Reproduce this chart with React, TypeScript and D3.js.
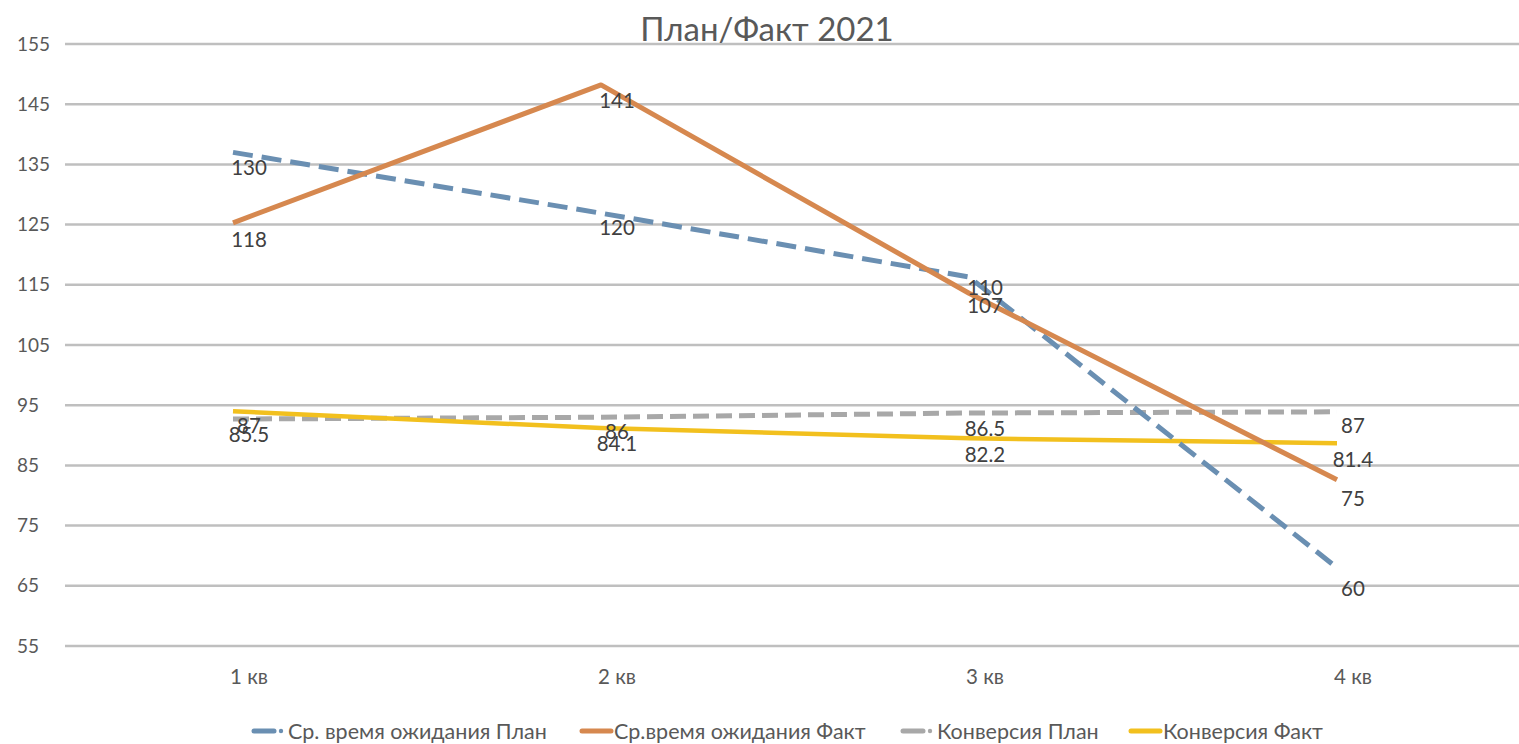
import React from 'react';
import * as d3 from 'd3';

const quarters = ['1 кв', '2 кв', '3 кв', '4 кв'];
const yTicks = [55, 65, 75, 85, 95, 105, 115, 125, 135, 145, 155];

// plotted positions (in axis units)
const waitPlan = [137.0, 126.9, 116.3, 68.0];
const waitFact = [125.3, 148.2, 113.6, 82.6];
const convPlan = [92.7, 93.0, 93.7, 93.9];
const convFact = [94.0, 91.2, 89.5, 88.7];

// data label texts (the axis in the source is shifted by ~7 against them)
const waitPlanLabels = ['130', '120', '110', '60'];
const waitFactLabels = ['118', '141', '107', '75'];
const convPlanLabels = ['87', '86', '86.5', '87'];
const convFactLabels = ['85.5', '84.1', '82.2', '81.4'];
const labelShift = 7;

const seriesNames = ['Ср. время ожидания План', 'Ср.время ожидания Факт', 'Конверсия План', 'Конверсия Факт'];

const width = 1519;
const height = 744;
const font = 'Lato, "Open Sans", sans-serif';

export default function App() {
    const svgRef = React.useRef(null);

    const renderChart = React.useCallback(() => {
        const svg = d3.select(svgRef.current);
        svg.selectAll('*').remove();
        svg.attr('width', width).attr('height', height);

        const x = d3.scaleBand().domain(quarters).range([65, 1537]);
        const y = d3.scaleLinear().domain([55, 155]).range([646, 44]);
        const cx = (q: string) => x(q)! + x.bandwidth() / 2;
        const px = (q: string) => cx(q) - 16;

        // gridlines + y tick labels
        svg.append('g')
          .selectAll('line')
          .data(yTicks)
          .join('line')
          .attr('x1', 65)
          .attr('x2', width)
          .attr('y1', d => y(d))
          .attr('y2', d => y(d))
          .attr('stroke', '#bfbfbf')
          .attr('stroke-width', 2.5);
        svg.append('g')
          .selectAll('text')
          .data(yTicks)
          .join('text')
          .attr('x', 17)
          .attr('y', d => y(d))
          .attr('dy', '.35em')
          .attr('font-family', font)
          .attr('font-size', 19)
          .attr('fill', '#595959')
          .text(d => d);

        // category labels
        svg.append('g')
          .selectAll('text')
          .data(quarters)
          .join('text')
          .attr('x', d => cx(d))
          .attr('y', 677)
          .attr('dy', '.35em')
          .attr('text-anchor', 'middle')
          .attr('font-family', font)
          .attr('font-size', 20.5)
          .attr('fill', '#595959')
          .text(d => d);

        // title
        svg.append('text')
          .attr('x', 767)
          .attr('y', 41)
          .attr('text-anchor', 'middle')
          .attr('font-family', font)
          .attr('font-size', 33)
          .attr('fill', '#595959')
          .text('План/Факт 2021');

        const series = [
            { values: waitPlan, labels: waitPlanLabels, color: '#6a8fb2', dash: '20,9', w: 5 },
            { values: waitFact, labels: waitFactLabels, color: '#d6884f', dash: null, w: 5 },
            { values: convPlan, labels: convPlanLabels, color: '#a8a8a8', dash: '16,7', w: 5 },
            { values: convFact, labels: convFactLabels, color: '#f2c01e', dash: null, w: 4.5 },
        ];
        const drawOrder = [2, 3, 0, 1];

        const line = d3.line<number>()
          .x((_, i) => px(quarters[i]))
          .y(d => y(d));

        drawOrder.forEach(k => {
            const s = series[k];
            const path = svg.append('path')
              .attr('d', line(s.values))
              .attr('fill', 'none')
              .attr('stroke', s.color)
              .attr('stroke-width', s.w)
              .attr('stroke-linejoin', 'round');
            if (s.dash) path.attr('stroke-dasharray', s.dash);
        });

        // data labels, placed below their value
        series.forEach(s => {
            svg.append('g')
              .selectAll('text')
              .data(s.labels)
              .join('text')
              .attr('x', (_, i) => cx(quarters[i]))
              .attr('y', d => y(+d + labelShift) + 15)
              .attr('dy', '.35em')
              .attr('text-anchor', 'middle')
              .attr('font-family', font)
              .attr('font-size', 20.5)
              .attr('fill', '#404040')
              .text(d => d);
        });

        // legend
        const legendX = [254, 582, 903, 1131];
        const legend = svg.append('g')
          .selectAll('g')
          .data(series)
          .join('g')
          .attr('transform', (_, i) => `translate(${legendX[i]},731)`);
        legend.append('line')
          .attr('x1', 0)
          .attr('x2', (d) => d.dash ? 20 : 29)
          .attr('y1', 0)
          .attr('y2', 0)
          .attr('stroke', d => d.color)
          .attr('stroke-width', 5)
          .attr('stroke-linecap', 'round');
        legend.filter(d => !!d.dash)
          .append('circle')
          .attr('cx', 27)
          .attr('cy', 0)
          .attr('r', 2.2)
          .attr('fill', d => d.color);
        legend.append('text')
          .attr('x', d => d.dash ? 34 : 32)
          .attr('y', 0)
          .attr('dy', '.35em')
          .attr('font-family', font)
          .attr('font-size', 21.5)
          .attr('fill', '#595959')
          .text((_, i) => seriesNames[i]);
    }, []);

    React.useEffect(() => {
        renderChart();
    }, [renderChart]);

    return (
        <div style={{ position: 'absolute', left: 0, top: 0, width, height, background: '#fff' }}>
            <svg ref={svgRef} style={{ display: 'block' }} />
        </div>
    );
}
